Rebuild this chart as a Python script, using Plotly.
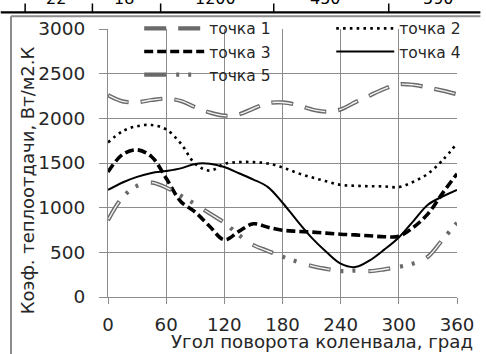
import plotly.graph_objects as go

# ---------------- data ----------------
angles = list(range(0, 361, 15))
tochka1 = [2260, 2190, 2180, 2205, 2220, 2195, 2125, 2065, 2030, 2045, 2110, 2170, 2178,
           2150, 2100, 2075, 2100, 2180, 2255, 2330, 2380, 2375, 2345, 2310, 2270]
tochka2 = [1730, 1855, 1912, 1925, 1875, 1720, 1490, 1415, 1490, 1510, 1510, 1495, 1450,
           1390, 1340, 1295, 1255, 1245, 1240, 1238, 1230, 1290, 1380, 1530, 1720]
tochka3 = [1400, 1595, 1648, 1570, 1330, 1070, 950, 790, 640, 735, 820, 780, 748,
           735, 727, 715, 703, 695, 685, 675, 680, 780, 930, 1160, 1380]
tochka4 = [1198, 1282, 1345, 1388, 1410, 1440, 1490, 1492, 1455, 1385, 1315, 1230, 1055,
           855, 665, 507, 373, 335, 410, 530, 666, 850, 1033, 1124, 1198]
tochka5 = [860, 1115, 1245, 1280, 1225, 1135, 1040, 935, 831, 694, 582, 515, 452,
           395, 348, 315, 290, 296, 290, 310, 338, 375, 450, 640, 830]
names = ["точка 1", "точка 2", "точка 3", "точка 4", "точка 5"]
x_ticks = [0, 60, 120, 180, 240, 300, 360]
y_ticks = [0, 500, 1000, 1500, 2000, 2500, 3000]
x_title = "Угол поворота коленвала, град"
y_title = "Коэф. теплоотдачи, Вт/м2.К"
table_values = ["22", "18", "1200", "450", "590"]

# ---------------- geometry helpers ----------------
W, H = 486, 354
L, R, T, B = 108, 20, 24, 57
PW, PH = W - L - R, H - T - B


def px(x):
    return (x - L) / PW


def py(y):
    return (H - B - y) / PH


FONT = "DejaVu Sans"
TXT = "#262626"
GRID = "#8c8c8c"
OUT = "#6a6a6a"

fig = go.Figure()

# точка 1 (double line, long dash)
fig.add_trace(go.Scatter(x=angles, y=tochka1, mode="lines", name=names[0], legend="legend",
                         line=dict(color=OUT, width=4.2, dash="22px,12px", shape="spline")))
fig.add_trace(go.Scatter(x=angles, y=tochka1, mode="lines", showlegend=False, hoverinfo="skip",
                         line=dict(color="#f4f4f4", width=1.4, dash="0px,1px,20px,13px", shape="spline")))
# точка 2 (dotted)
fig.add_trace(go.Scatter(x=angles, y=tochka2, mode="lines", name=names[1], legend="legend2",
                         line=dict(color="black", width=2.6, dash="2.6px,4.2px", shape="spline")))
# точка 3 (thick dash)
fig.add_trace(go.Scatter(x=angles, y=tochka3, mode="lines", name=names[2], legend="legend",
                         line=dict(color="black", width=3.6, dash="9px,4px", shape="spline")))
# точка 4 (solid)
fig.add_trace(go.Scatter(x=angles, y=tochka4, mode="lines", name=names[3], legend="legend2",
                         line=dict(color="black", width=2, shape="spline")))
# точка 5 (double long dash + two dots)
fig.add_trace(go.Scatter(x=angles, y=tochka5, mode="lines", name=names[4], legend="legend",
                         line=dict(color=OUT, width=4.2, dash="22px,10px,3px,9px,3px,13px", shape="spline")))
fig.add_trace(go.Scatter(x=angles, y=tochka5, mode="lines", showlegend=False, hoverinfo="skip",
                         line=dict(color="#f4f4f4", width=1.4, dash="0px,1px,20px,39px", shape="spline")))

shapes = []
# white area under the legend (hides gridlines)
shapes.append(dict(type="rect", xref="paper", yref="paper", x0=px(109.5), x1=px(470),
                   y0=py(80), y1=py(12), fillcolor="white", line=dict(width=0), layer="between"))
# outer chart frame
shapes.append(dict(type="line", xref="paper", yref="paper", x0=px(8.5), x1=px(8.5),
                   y0=py(11), y1=py(356), line=dict(color="#8c8c8c", width=2)))
shapes.append(dict(type="line", xref="paper", yref="paper", x0=px(8.5), x1=px(490),
                   y0=py(11), y1=py(11), line=dict(color="#8c8c8c", width=2)))
# table fragment above
shapes.append(dict(type="line", xref="paper", yref="paper", x0=px(-2), x1=px(490),
                   y0=py(7), y1=py(7), line=dict(color="black", width=2.2)))
for xv in [23, 92, 162, 278, 396]:
    shapes.append(dict(type="line", xref="paper", yref="paper", x0=px(xv), x1=px(xv),
                       y0=py(-2), y1=py(7), line=dict(color="black", width=1.5)))

annotations = [
    dict(text=x_title, xref="paper", yref="paper", x=px(484), y=py(342), xanchor="right",
         yanchor="middle", showarrow=False, font=dict(family=FONT, size=18.2, color=TXT)),
    dict(text=y_title, xref="paper", yref="paper", x=px(25), y=py(178), xanchor="center",
         yanchor="middle", textangle=-90, showarrow=False, font=dict(family=FONT, size=18, color=TXT)),
]
for xv, tv in zip([55, 124, 218, 331, 447], table_values):
    annotations.append(dict(text=tv, xref="paper", yref="paper", x=px(xv), y=py(4.5),
                            xanchor="center", yanchor="bottom", showarrow=False,
                            font=dict(family=FONT, size=16, color="black")))

fig.update_layout(
    width=W, height=H,
    margin=dict(l=L, r=R, t=T, b=B, pad=0),
    paper_bgcolor="white", plot_bgcolor="white",
    font=dict(family=FONT, color=TXT),
    xaxis=dict(range=[0, 360], tickvals=x_ticks, showgrid=True, gridcolor=GRID, gridwidth=1,
               ticks="outside", ticklen=6, tickcolor=GRID, showline=True, linecolor=GRID,
               linewidth=1, zeroline=False, tickfont=dict(family=FONT, size=18.2, color=TXT),
               ticklabelstandoff=5, fixedrange=True),
    yaxis=dict(range=[0, 3000], tickvals=y_ticks, showgrid=True, gridcolor=GRID, gridwidth=1,
               ticks="outside", ticklen=8, tickcolor=GRID, showline=True, linecolor=GRID,
               linewidth=1, zeroline=False, tickfont=dict(family=FONT, size=18.5, color=TXT),
               ticklabelstandoff=10, fixedrange=True),
    legend=dict(x=px(140), y=py(6.5), xanchor="left", yanchor="top", orientation="v",
                itemwidth=60, bgcolor="rgba(0,0,0,0)", borderwidth=0, traceorder="normal",
                font=dict(family=FONT, size=15.5, color=TXT)),
    legend2=dict(x=px(337), y=py(6.5), xanchor="left", yanchor="top", orientation="v",
                 itemwidth=58, bgcolor="rgba(0,0,0,0)", borderwidth=0, traceorder="normal",
                 font=dict(family=FONT, size=15.5, color=TXT)),
    shapes=shapes,
    annotations=annotations,
    showlegend=True,
)

fig.write_html("out.html")
